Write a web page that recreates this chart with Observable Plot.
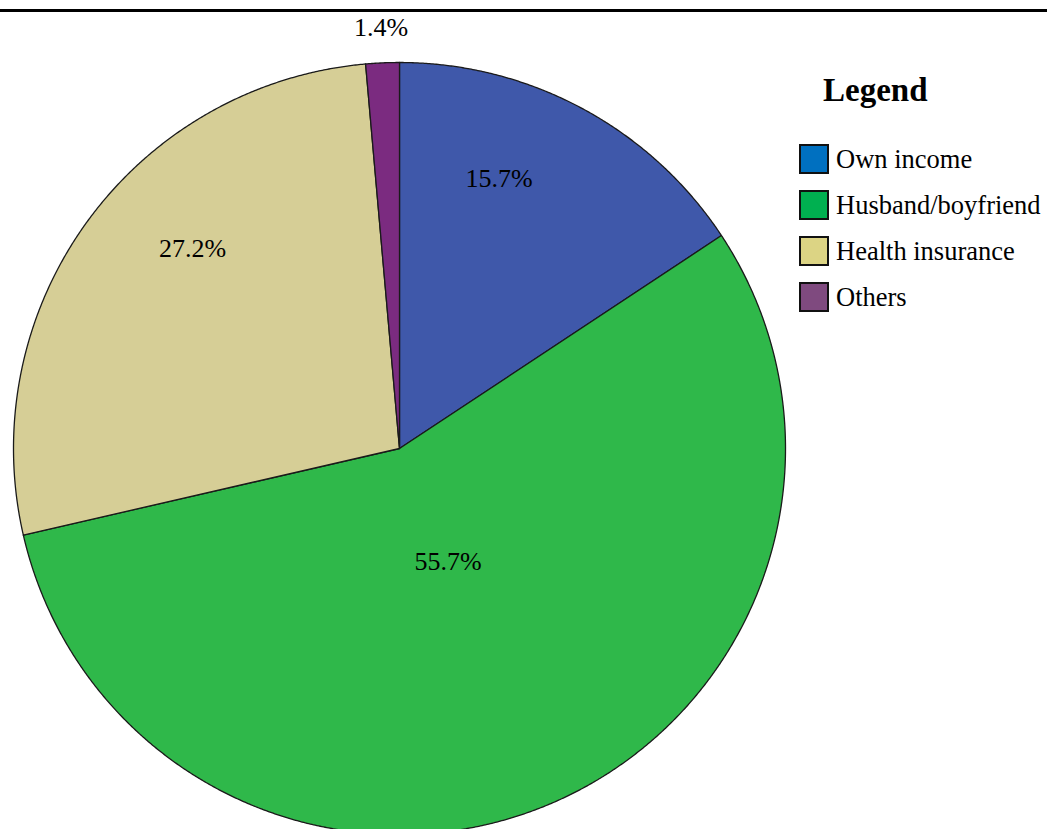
<!DOCTYPE html>
<html>
<head>
<meta charset="utf-8">
<script src="https://cdn.jsdelivr.net/npm/d3@7"></script>
<script src="https://cdn.jsdelivr.net/npm/@observablehq/plot@0.6"></script>
<style>
  html, body { margin: 0; padding: 0; background: #fff; overflow: hidden; }
  #wrap { position: relative; width: 1047px; height: 829px; overflow: hidden;
          font-family: "Liberation Serif", "Times New Roman", serif; color: #000; }
  #rule { position: absolute; left: 0; top: 9px; width: 1047px; height: 3px; background: #000; }
  #chart { position: absolute; left: 0; top: 0; }
  #legend-title { position: absolute; left: 823px; top: 74px; font-size: 33px; font-weight: bold; line-height: 1; }
  .item { position: absolute; left: 799px; display: flex; align-items: center; height: 30px; }
  .sw { width: 26px; height: 26px; border: 2px solid #111; box-sizing: content-box; }
  .lab { margin-left: 7px; font-size: 26.5px; line-height: 30px; white-space: nowrap; font-family: "Liberation Serif", serif; }
</style>
</head>
<body>
<div id="wrap">
  <div id="chart"></div>
  <div id="rule"></div>
  <div id="legend-title">Legend</div>
  <div id="legend"></div>
</div>
<script>
// ---- data ----
const categories = ["Own income", "Husband/boyfriend", "Health insurance", "Others"];
const values = [15.7, 55.7, 27.2, 1.4];
const pieColors = ["#3f58aa", "#2fb84a", "#d6ce96", "#7b2b80"];
const legendColors = ["#0070c0", "#00b050", "#dcd484", "#7f4a7f"];

// ---- build slices (angles clockwise from 12 o'clock) ----
const total = d3.sum(values);
const pie = d3.pie().sort(null).value(d => d.value)(categories.map((c, i) => ({category: c, value: values[i]})));

const points = [];
pie.forEach(s => {
  const c = s.data.category;
  points.push({category: c, x: 0, y: 0});
  const n = Math.max(2, Math.ceil((s.endAngle - s.startAngle) / (Math.PI / 720)));
  for (let k = 0; k <= n; k++) {
    const a = s.startAngle + (s.endAngle - s.startAngle) * k / n;
    points.push({category: c, x: Math.sin(a), y: Math.cos(a)});
  }
  points.push({category: c, x: 0, y: 0});
});

// label placement: largest slice near centre, tiny slices outside,
// others at ~3/4 radius with the angle nudged toward 12 o'clock
const maxVal = d3.max(values);
const nudge = 8 * Math.PI / 180;
const labels = pie.map(s => {
  let mid = (s.startAngle + s.endAngle) / 2;
  const share = s.data.value / total;
  let r;
  if (s.data.value === maxVal) r = 0.32;
  else if (share < 0.05) r = 1.09;
  else { r = 0.745; mid -= Math.sign(Math.sin(mid)) * nudge; }
  return {x: r * Math.sin(mid), y: r * Math.cos(mid), text: s.data.value.toFixed(1) + "%"};
});

const chart = Plot.plot({
  width: 1047,
  height: 829,
  margin: 0,
  style: {background: "transparent", overflow: "visible"},
  x: {domain: [-1, 1], range: [13, 785], axis: null},
  y: {domain: [-1, 1], range: [834, 62], axis: null},
  color: {domain: categories, range: pieColors},
  marks: [
    Plot.line(points, {x: "x", y: "y", z: "category", fill: "category", stroke: "#1a1a1a", strokeWidth: 1.3, strokeLinejoin: "round"}),
    Plot.text(labels, {x: "x", y: "y", text: "text", fontSize: 26, fontFamily: "Liberation Serif", fill: "#000"})
  ]
});
document.getElementById("chart").appendChild(chart);

// ---- legend ----
const legend = document.getElementById("legend");
categories.forEach((c, i) => {
  const item = document.createElement("div");
  item.className = "item";
  item.style.top = (144 + i * 46) + "px";
  const sw = document.createElement("div");
  sw.className = "sw";
  sw.style.background = legendColors[i];
  const lab = document.createElement("div");
  lab.className = "lab";
  lab.textContent = c;
  item.appendChild(sw);
  item.appendChild(lab);
  legend.appendChild(item);
});
</script>
</body>
</html>
